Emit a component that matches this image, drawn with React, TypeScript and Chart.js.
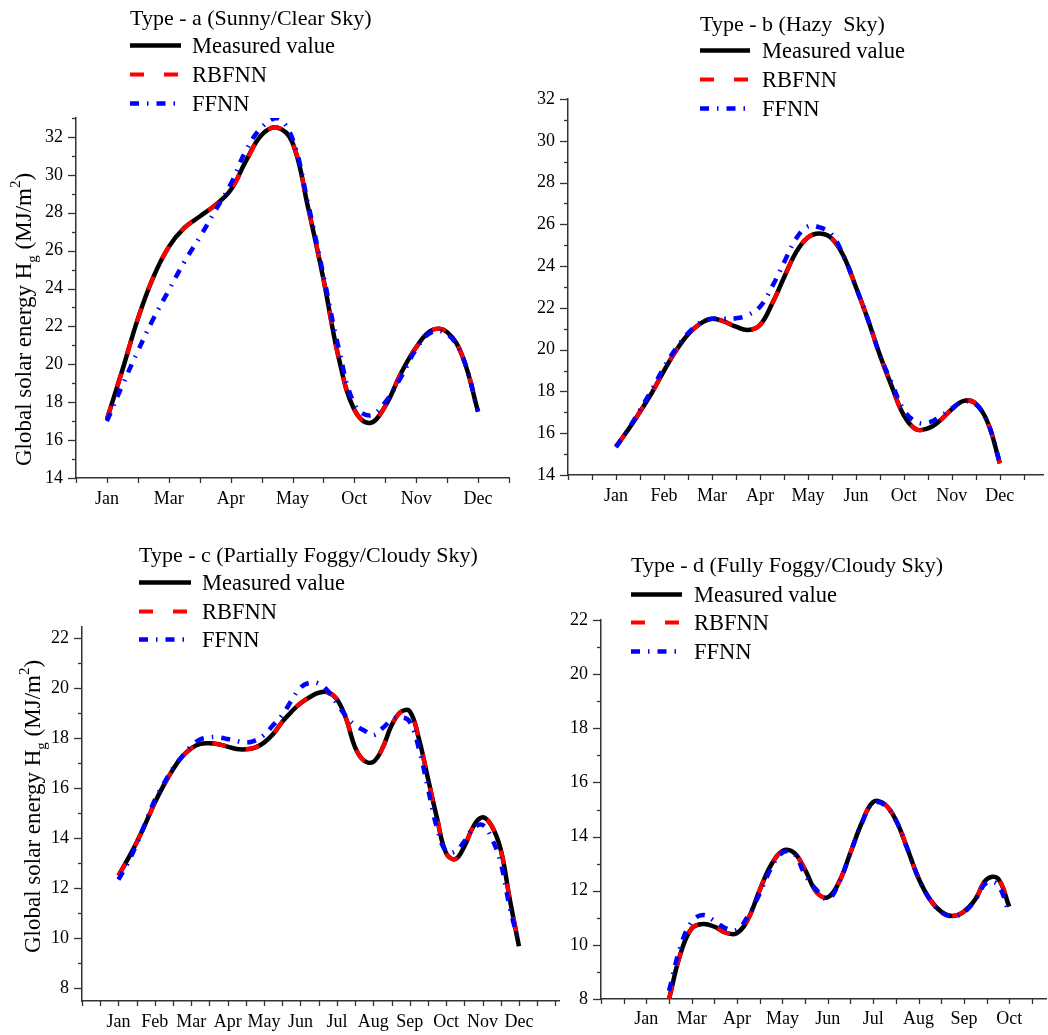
import React, { useEffect, useRef } from 'react';
import { Chart, registerables } from 'chart.js';

Chart.register(...registerables);

const FONT = '"Liberation Serif", "Times New Roman", serif';
const SERIES_NAMES = ['Measured value', 'RBFNN', 'FFNN'];

// ---------- Panel a : Sunny / Clear sky (x = 0..6 by 0.25) ----------
const titleA = 'Type - a (Sunny/Clear Sky)';
const monthsA = ['Jan', 'Mar', 'Apr', 'May', 'Oct', 'Nov', 'Dec'];
const measuredA = [17.1, 19.7, 22.4, 24.6, 26.2, 27.2, 27.8, 28.4, 29.2, 30.75, 32.1, 32.5, 31.7, 28.3, 24.5, 20.3, 17.6, 16.9, 17.8, 19.5, 20.9, 21.8, 21.7, 20.4, 17.5];
const rbfnnA = [17.1, 19.7, 22.4, 24.6, 26.2, 27.2, 27.8, 28.4, 29.2, 30.7, 32.1, 32.5, 31.7, 28.3, 24.5, 20.3, 17.6, 16.9, 17.8, 19.5, 20.9, 21.8, 21.7, 20.4, 17.6];
const ffnnA = [17.0, 18.9, 20.7, 22.4, 23.9, 25.4, 26.7, 28.1, 29.5, 31.3, 32.5, 33.0, 31.9, 28.5, 24.7, 20.8, 17.9, 17.3, 18.0, 19.3, 20.8, 21.7, 21.6, 20.4, 17.5];

// ---------- Panel b : Hazy sky (x = 0..8 by 0.25) ----------
const titleB = 'Type - b (Hazy  Sky)';
const monthsB = ['Jan', 'Feb', 'Mar', 'Apr', 'May', 'Jun', 'Oct', 'Nov', 'Dec'];
const measuredB = [15.36, 16.15, 17.03, 17.94, 18.99, 19.95, 20.73, 21.24, 21.48, 21.35, 21.1, 20.94, 21.18, 22.18, 23.44, 24.65, 25.37, 25.56, 25.32, 24.45, 23.0, 21.45, 19.74, 18.23, 16.85, 16.19, 16.23, 16.6, 17.15, 17.55, 17.42, 16.5, 14.56];
const rbfnnB = [15.36, 16.15, 17.03, 17.94, 18.99, 19.95, 20.73, 21.24, 21.48, 21.35, 21.1, 20.94, 21.18, 22.18, 23.44, 24.65, 25.37, 25.56, 25.32, 24.45, 23.0, 21.45, 19.74, 18.23, 16.85, 16.19, 16.23, 16.6, 17.15, 17.55, 17.42, 16.5, 14.56];
const ffnnB = [15.33, 16.18, 17.11, 18.1, 19.15, 20.06, 20.78, 21.29, 21.48, 21.48, 21.5, 21.66, 22.05, 23.0, 24.16, 25.3, 25.9, 25.85, 25.5, 24.45, 23.0, 21.45, 19.74, 18.39, 17.11, 16.55, 16.5, 16.79, 17.19, 17.52, 17.38, 16.5, 14.6];

// ---------- Panel c : Partially foggy / cloudy sky (x = 0..11 by 0.25) ----------
const titleC = 'Type - c (Partially Foggy/Cloudy Sky)';
const monthsC = ['Jan', 'Feb', 'Mar', 'Apr', 'May', 'Jun', 'Jul', 'Aug', 'Sep', 'Oct', 'Nov', 'Dec'];
const measuredC = [12.51, 13.15, 13.84, 14.61, 15.43, 16.14, 16.76, 17.27, 17.6, 17.78, 17.8, 17.76, 17.67, 17.57, 17.56, 17.63, 17.83, 18.17, 18.66, 19.06, 19.4, 19.64, 19.82, 19.84, 19.56, 18.8, 17.64, 17.1, 17.06, 17.6, 18.51, 19.05, 19.08, 18.0, 16.4, 14.81, 13.41, 13.17, 13.68, 14.48, 14.85, 14.5, 13.55, 11.55, 9.69];
const rbfnnC = [12.51, 13.15, 13.84, 14.61, 15.43, 16.14, 16.76, 17.27, 17.6, 17.78, 17.8, 17.76, 17.67, 17.57, 17.56, 17.63, 17.83, 18.17, 18.66, 19.06, 19.4, 19.64, 19.82, 19.84, 19.56, 18.8, 17.64, 17.1, 17.06, 17.6, 18.51, 19.05, 19.08, 18.0, 16.4, 14.81, 13.41, 13.17, 13.68, 14.48, 14.85, 14.5, 13.55, 11.55, 9.75];
const ffnnC = [12.35, 12.99, 13.77, 14.65, 15.54, 16.2, 16.8, 17.27, 17.69, 17.96, 18.04, 18.04, 17.97, 17.89, 17.83, 17.91, 18.13, 18.53, 18.93, 19.5, 20.03, 20.22, 20.19, 19.9, 19.4, 18.89, 18.53, 18.31, 18.13, 18.4, 18.73, 18.84, 18.66, 17.6, 16.01, 14.41, 13.48, 13.48, 13.88, 14.41, 14.54, 14.01, 13.01, 11.22, 9.82];

// ---------- Panel d : Fully foggy / cloudy sky (x = 0.5..8 by 0.25) ----------
const titleD = 'Type - d (Fully Foggy/Cloudy Sky)';
const monthsD = ['Jan', 'Mar', 'Apr', 'May', 'Jun', 'Jul', 'Aug', 'Sep', 'Oct'];
const measuredD = [8.0, 9.66, 10.61, 10.77, 10.67, 10.45, 10.43, 10.98, 12.03, 12.95, 13.47, 13.41, 12.77, 11.95, 11.76, 12.33, 13.41, 14.51, 15.28, 15.2, 14.61, 13.57, 12.46, 11.68, 11.23, 11.07, 11.23, 11.68, 12.42, 12.45, 11.41];
const rbfnnD = [8.0, 9.66, 10.61, 10.77, 10.67, 10.45, 10.43, 10.98, 12.03, 12.95, 13.47, 13.41, 12.77, 11.95, 11.76, 12.33, 13.41, 14.51, 15.28, 15.2, 14.61, 13.57, 12.46, 11.68, 11.23, 11.07, 11.23, 11.68, 12.42, 12.45, 11.41];
const ffnnD = [8.3, 9.93, 10.86, 11.1, 10.89, 10.61, 10.57, 11.1, 11.9, 12.83, 13.41, 13.38, 12.58, 12.03, 11.68, 12.3, 13.41, 14.5, 15.25, 15.17, 14.6, 13.57, 12.46, 11.68, 11.2, 11.05, 11.2, 11.65, 12.3, 12.21, 11.16];

type Panel = {
  title: string;
  months: string[];
  xStart: number;
  measured: number[];
  rbfnn: number[];
  ffnn: number[];
  xMin: number;
  xMax: number;
  yMin: number;
  yMax: number;
  area: { l: number; t: number; r: number; b: number };
  legend: { x1: number; x2: number; tx: number; titleY: number; rows: number[] };
  yTitle?: { x: number; y: number };
  xPad: number;
};

const panels: Panel[] = [
  {
    title: titleA, months: monthsA, xStart: 0, measured: measuredA, rbfnn: rbfnnA, ffnn: ffnnA,
    xMin: -0.5, xMax: 6.5, yMin: 14, yMax: 33,
    area: { l: 76, t: 118, r: 509, b: 478 },
    legend: { x1: 130, x2: 181, tx: 192, titleY: 25, rows: [53, 82, 111] },
    yTitle: { x: 31, y: 466 }, xPad: 10,
  },
  {
    title: titleB, months: monthsB, xStart: 0, measured: measuredB, rbfnn: rbfnnB, ffnn: ffnnB,
    xMin: -1, xMax: 8.9, yMin: 14, yMax: 32,
    area: { l: 568, t: 99, r: 1043, b: 475 },
    legend: { x1: 700, x2: 750, tx: 762, titleY: 31, rows: [58, 87, 116] },
    xPad: 10,
  },
  {
    title: titleC, months: monthsC, xStart: 0, measured: measuredC, rbfnn: rbfnnC, ffnn: ffnnC,
    xMin: -1, xMax: 12.1, yMin: 7.5, yMax: 22.45,
    area: { l: 82, t: 627, r: 559, b: 1001 },
    legend: { x1: 139, x2: 191, tx: 202, titleY: 562, rows: [590, 619, 647] },
    yTitle: { x: 40, y: 953 }, xPad: 10,
  },
  {
    title: titleD, months: monthsD, xStart: 0.5, measured: measuredD, rbfnn: rbfnnD, ffnn: ffnnD,
    xMin: -1, xMax: 8.81, yMin: 8, yMax: 22,
    area: { l: 601, t: 620, r: 1046, b: 999 },
    legend: { x1: 631, x2: 682, tx: 694, titleY: 572, rows: [602, 630, 659] },
    xPad: 9,
  },
];

const W = 1048;
const H = 1035;
const Y_AXIS_W = 60;
const X_AXIS_H = 30;

const STYLES = [
  { color: '#000000', width: 4.5, dash: [] as number[] },
  { color: '#ff0000', width: 4.2, dash: [14, 20] },
  { color: '#0000ff', width: 4.5, dash: [9, 8, 1.5, 8] },
];

function makeDecor(p: Panel) {
  return {
    id: 'panelDecor',
    afterDraw(chart: any) {
      const ctx: CanvasRenderingContext2D = chart.ctx;
      const xs = chart.scales.x;
      const ys = chart.scales.y;
      ctx.save();
      ctx.strokeStyle = '#333';
      ctx.lineWidth = 1.3;
      // x tick marks (major + minor every half month)
      for (let v = Math.ceil(p.xMin * 2) / 2; v <= p.xMax + 1e-9; v += 0.5) {
        const px = Math.round(xs.getPixelForValue(v)) + 0.5;
        ctx.beginPath();
        ctx.moveTo(px, ys.bottom);
        ctx.lineTo(px, ys.bottom + 5);
        ctx.stroke();
      }
      // y tick marks
      for (let v = Math.ceil(p.yMin); v <= p.yMax + 1e-9; v += 1) {
        const py = Math.round(ys.getPixelForValue(v)) + 0.5;
        const len = v % 2 === 0 ? 8 : 4;
        ctx.beginPath();
        ctx.moveTo(xs.left - len, py);
        ctx.lineTo(xs.left, py);
        ctx.stroke();
      }
      // legend
      ctx.fillStyle = '#000';
      ctx.textBaseline = 'alphabetic';
      ctx.textAlign = 'left';
      ctx.font = `22px ${FONT}`;
      ctx.fillText(p.title, p.legend.x1, p.legend.titleY);
      SERIES_NAMES.forEach((name, i) => {
        const st = STYLES[i];
        const base = p.legend.rows[i];
        const ly = base - 7.5;
        ctx.save();
        ctx.strokeStyle = st.color;
        ctx.lineWidth = st.width;
        ctx.setLineDash(st.dash);
        ctx.lineCap = 'butt';
        ctx.beginPath();
        ctx.moveTo(p.legend.x1, ly);
        ctx.lineTo(p.legend.x2, ly);
        ctx.stroke();
        ctx.restore();
        ctx.fillStyle = '#000';
        ctx.font = `22.5px ${FONT}`;
        ctx.fillText(name, p.legend.tx, base);
      });
      // y axis title with subscript / superscript
      if (p.yTitle) {
        ctx.save();
        ctx.translate(p.yTitle.x, p.yTitle.y);
        ctx.rotate(-Math.PI / 2);
        ctx.fillStyle = '#000';
        ctx.textAlign = 'left';
        ctx.textBaseline = 'alphabetic';
        const parts: [string, number, number][] = [
          ['Global solar energy H', 23, 0],
          ['g', 15, 6],
          [' (MJ/m', 23, 0],
          ['2', 15, -11],
          [')', 23, 0],
        ];
        let cx = 0;
        for (const [t, s, dy] of parts) {
          ctx.font = `${s}px ${FONT}`;
          ctx.fillText(t, cx, dy);
          cx += ctx.measureText(t).width;
        }
        ctx.restore();
      }
      ctx.restore();
    },
  };
}

function PanelChart({ p }: { p: Panel }) {
  const ref = useRef<HTMLCanvasElement | null>(null);
  useEffect(() => {
    if (!ref.current) return;
    const toPts = (arr: number[]) => arr.map((y, k) => ({ x: p.xStart + k * 0.25, y }));
    const series = [p.measured, p.rbfnn, p.ffnn];
    const xTickVals: number[] = [];
    for (let v = Math.ceil(p.xMin * 2) / 2; v <= p.xMax + 1e-9; v += 0.5) xTickVals.push(v);
    const yTickVals: number[] = [];
    for (let v = Math.ceil(p.yMin / 2) * 2; v <= p.yMax + 1e-9; v += 2) yTickVals.push(v);

    const chart = new Chart(ref.current, {
      type: 'line',
      data: {
        datasets: series.map((arr, i) => ({
          label: SERIES_NAMES[i],
          data: toPts(arr),
          borderColor: STYLES[i].color,
          backgroundColor: STYLES[i].color,
          borderWidth: STYLES[i].width,
          borderDash: STYLES[i].dash,
          pointRadius: 0,
          fill: false,
          tension: 0.4,
          order: 3 - i,
        })),
      },
      options: {
        responsive: false,
        animation: false,
        events: [],
        layout: {
          padding: {
            left: p.area.l - Y_AXIS_W,
            top: p.area.t,
            right: W - p.area.r,
            bottom: H - p.area.b - X_AXIS_H,
          },
        },
        plugins: {
          legend: { display: false },
          title: { display: false },
          tooltip: { enabled: false },
        },
        scales: {
          x: {
            type: 'linear',
            min: p.xMin,
            max: p.xMax,
            afterBuildTicks: (s: any) => {
              s.ticks = xTickVals.map((v) => ({ value: v }));
            },
            afterFit: (s: any) => {
              s.height = X_AXIS_H;
            },
            grid: { display: false, drawTicks: false },
            border: { display: true, color: '#333', width: 1.5 },
            ticks: {
              autoSkip: false,
              maxRotation: 0,
              minRotation: 0,
              padding: p.xPad,
              color: '#000',
              font: { family: FONT, size: 18 },
              callback: (v: any) => {
                const n = Number(v);
                if (Math.abs(n - Math.round(n)) > 1e-6) return '';
                const idx = Math.round(n);
                return p.months[idx] ?? '';
              },
            },
          },
          y: {
            type: 'linear',
            min: p.yMin,
            max: p.yMax,
            afterBuildTicks: (s: any) => {
              s.ticks = yTickVals.map((v) => ({ value: v }));
            },
            afterFit: (s: any) => {
              s.width = Y_AXIS_W;
            },
            grid: { display: false, drawTicks: false },
            border: { display: true, color: '#333', width: 1.5 },
            ticks: {
              padding: 13,
              color: '#000',
              font: { family: FONT, size: 18 },
              callback: (v: any) => String(v),
            },
          },
        },
      },
      plugins: [makeDecor(p)],
    } as any);
    return () => chart.destroy();
  }, [p]);
  return (
    <canvas
      ref={ref}
      width={W}
      height={H}
      style={{ position: 'absolute', left: 0, top: 0, width: W, height: H, display: 'block' }}
    />
  );
}

export default function App() {
  return (
    <div style={{ position: 'absolute', left: 0, top: 0, width: W, height: H, background: '#fff', overflow: 'hidden' }}>
      {panels.map((p, i) => (
        <PanelChart key={i} p={p} />
      ))}
    </div>
  );
}
